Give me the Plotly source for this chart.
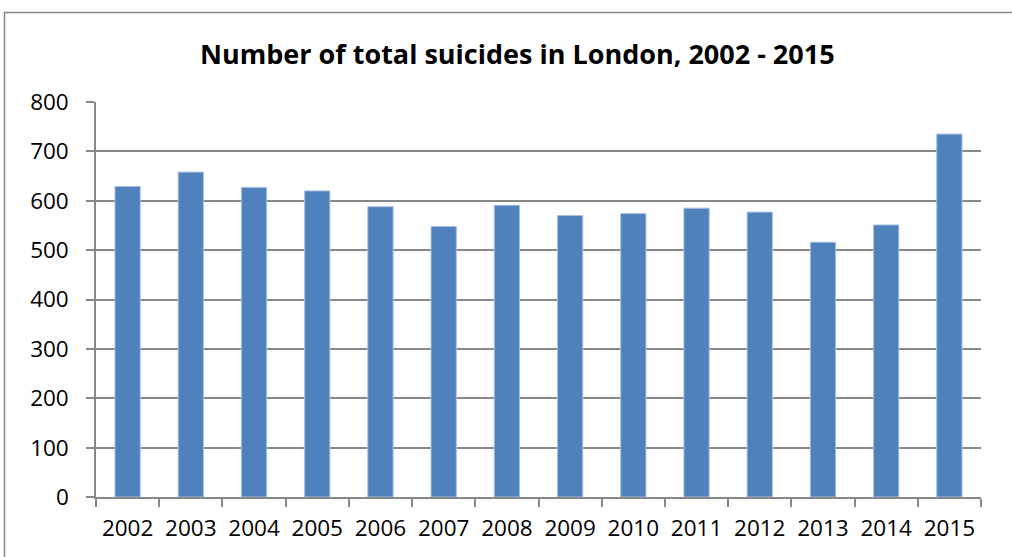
import plotly.graph_objects as go

years = ["2002", "2003", "2004", "2005", "2006", "2007", "2008",
         "2009", "2010", "2011", "2012", "2013", "2014", "2015"]
suicides = [629, 658, 627, 620, 588, 548, 591, 570, 574, 585, 577, 516, 551, 735]
y_ticks = [0, 100, 200, 300, 400, 500, 600, 700, 800]
title_text = "Number of total suicides in London, 2002 - 2015"

FONT = "Open Sans"
GRID = "#888888"

fig = go.Figure(go.Bar(
    x=years, y=suicides,
    marker=dict(color="#4F81BD", line=dict(color="#A9C1E0", width=1)),
    width=0.4,
))

W, H = 1012, 557
L, R, T, B = 96, 31, 102, 60
pw, ph = W - L - R, H - T - B


def px_x(x):
    return (x - L) / pw


def px_y(y):
    return (H - B - y) / ph


fig.update_layout(
    width=W, height=H,
    margin=dict(l=L, r=R, t=T, b=B, pad=0, autoexpand=False),
    paper_bgcolor="white", plot_bgcolor="white",
    showlegend=False,
    font=dict(family=FONT, color="black", size=22),
    annotations=[dict(
        text="<b>" + title_text + "</b>",
        xref="paper", yref="paper",
        x=px_x(517), y=px_y(53),
        xanchor="center", yanchor="middle",
        showarrow=False, font=dict(family=FONT, size=27, color="black"),
    )],
    shapes=[dict(
        type="rect", xref="paper", yref="paper",
        x0=px_x(4.5), x1=1.2, y0=-0.4, y1=px_y(12.5),
        line=dict(color=GRID, width=1.5), fillcolor="rgba(0,0,0,0)", layer="below",
    )],
)

fig.update_xaxes(
    type="category",
    showline=True, linecolor=GRID, linewidth=1.5,
    ticks="outside", tickson="boundaries", ticklen=8, tickcolor=GRID, tickwidth=1.5,
    showgrid=False,
    tickfont=dict(family=FONT, size=22.5, color="black"),
    ticklabelstandoff=10,
)
fig.update_yaxes(
    range=[0, 800], tickvals=y_ticks,
    showline=True, linecolor=GRID, linewidth=1.5,
    ticks="outside", ticklen=8, tickcolor=GRID, tickwidth=1.5,
    showgrid=True, gridcolor=GRID, gridwidth=1.5,
    zeroline=False,
    tickfont=dict(family=FONT, size=22.5, color="black"),
    ticklabelstandoff=13,
)

fig.write_html(
    "out.html",
    config={"displayModeBar": False},
    post_script="document.body.style.margin='0';document.body.style.overflow='hidden';",
)
